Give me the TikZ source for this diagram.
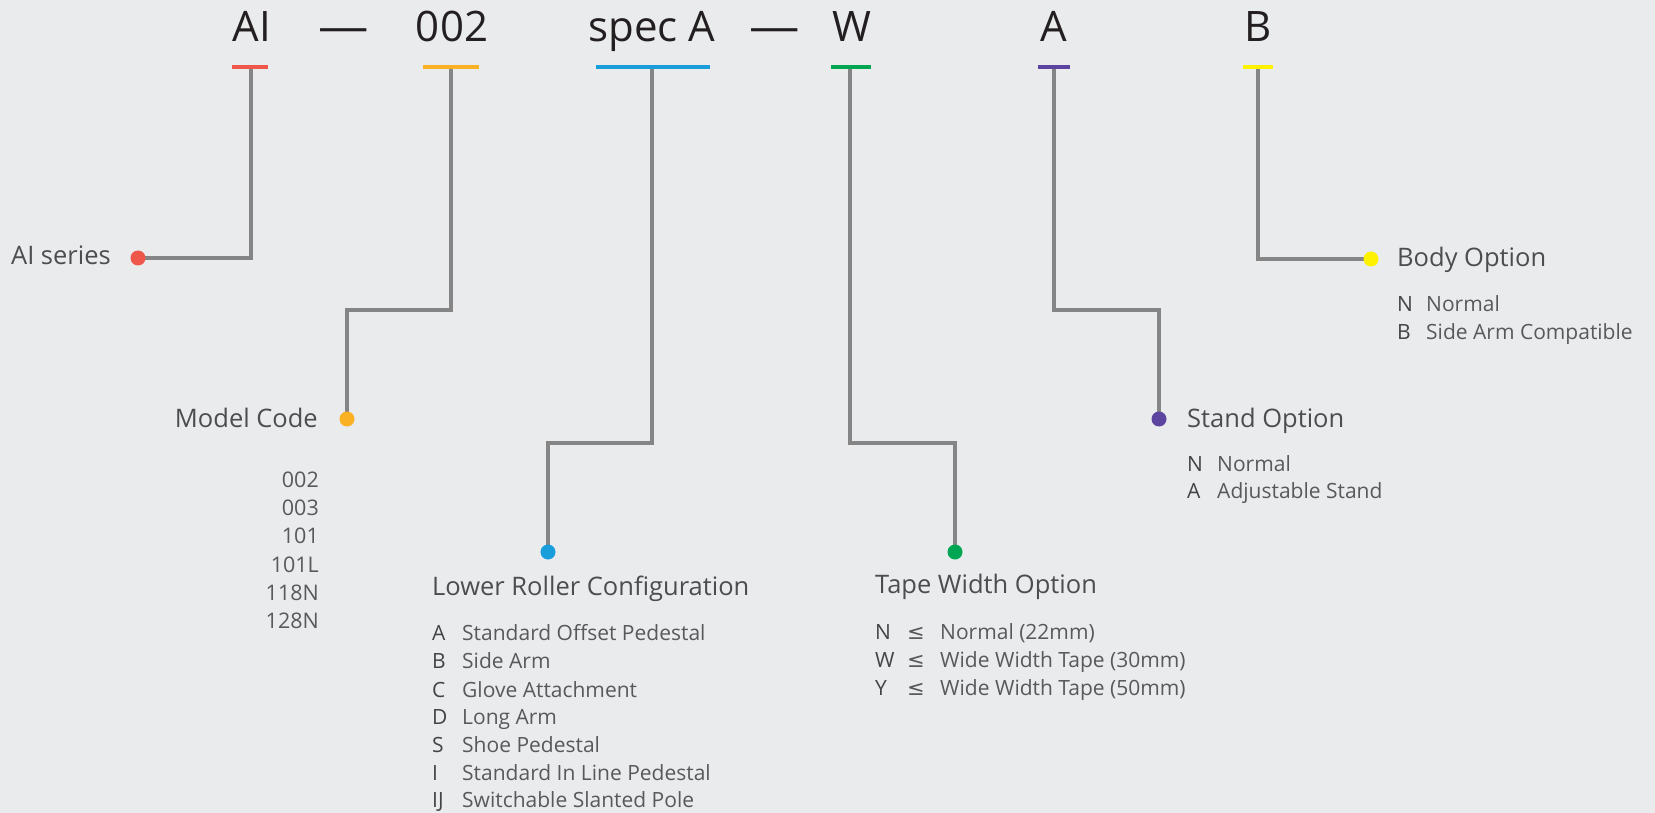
\documentclass[tikz,border=0pt]{standalone}
\usepackage{fontspec}
\setmainfont{Open Sans}
\newfontfamily\symfont{DejaVu Sans}
\definecolor{bgc}{HTML}{EAEBED}
\definecolor{cHdr}{HTML}{231F20}
\definecolor{cLbl}{HTML}{4D4D4F}
\definecolor{cItm}{HTML}{58595B}
\definecolor{cKey}{HTML}{444446}
\definecolor{cLine}{HTML}{858585}
\definecolor{cRed}{HTML}{F0574B}
\definecolor{cOrange}{HTML}{FBB124}
\definecolor{cBlue}{HTML}{1A9DDB}
\definecolor{cGreen}{HTML}{00A651}
\definecolor{cPurple}{HTML}{5B45A0}
\definecolor{cYellow}{HTML}{FFF200}
\begin{document}
\begin{tikzpicture}[x=1pt,y=-1pt,
  hdr/.style={font=\fontsize{42}{50}\selectfont, text=cHdr, anchor=base, inner sep=0pt},
  codebar/.style={rectangle, inner sep=0pt, minimum height=3.5pt, draw=none},
  dot/.style={circle, inner sep=0pt, minimum size=15pt, draw=none},
  conn/.style={draw=cLine, line width=3.4pt},
  lbl/.style={font=\fontsize{25.5}{30}\selectfont, text=cLbl, inner sep=0pt},
  itm/.style={font=\fontsize{21}{25}\selectfont, text=cItm, inner sep=0pt, anchor=base west},
  itmr/.style={font=\fontsize{21.5}{25}\selectfont, text=cItm, inner sep=0pt, anchor=base east},
  keyl/.style={itm, text=cKey}]
\fill[bgc] (0,0) rectangle (1655,813);
\useasboundingbox (0,0) rectangle (1655,813);

% header
\node[hdr] (hAI) at (252,42) {AI};
\node[hdr] (dash1) at (344,42) {\scalebox{1.2}[1]{—}};
\node[hdr] (h002) at (452,42) {002};
\node[hdr] (hspec) at (652,42) {spec A};
\node[hdr] (dash2) at (775,42) {\scalebox{1.2}[1]{—}};
\node[hdr] (hW) at (852,42) {W};
\node[hdr] (hA) at (1054,42) {A};
\node[hdr] (hB) at (1258,42) {B};

% bars
\node[codebar, minimum width=36pt] (bAI) at (250,67) {};
\node[codebar, minimum width=55pt] (b002) at (451,67) {};
\node[codebar, minimum width=113pt] (bspec) at (653,67) {};
\node[codebar, minimum width=40pt] (bW) at (851,67) {};
\node[codebar, minimum width=31pt] (bA) at (1054,67) {};
\node[codebar, minimum width=30pt] (bB) at (1258,67) {};

% dots
\node[dot] (dAI) at (138,258) {};
\node[dot] (d002) at (347,419) {};
\node[dot] (dspec) at (548,552) {};
\node[dot] (dW) at (955,552) {};
\node[dot] (dA) at (1159,419) {};
\node[dot] (dB) at (1371,259) {};

% corner coordinates
\coordinate (c002) at (347,310);
\coordinate (cspec) at (548,443);
\coordinate (cW) at (955,443);
\coordinate (cA) at (1159,310);

% connectors
\draw[conn] ([xshift=1pt]bAI.center) |- (dAI.center);
\draw[conn] (b002.center) |- (c002) -- (d002.center);
\draw[conn] ([xshift=-1pt]bspec.center) |- (cspec) -- (dspec.center);
\draw[conn] ([xshift=-1pt]bW.center) |- (cW) -- (dW.center);
\draw[conn] (bA.center) |- (cA) -- (dA.center);
\draw[conn] (bB.center) |- (dB.center);

% bars and dots on top
\fill[cRed] (bAI.south west) rectangle (bAI.north east);
\fill[cOrange] (b002.south west) rectangle (b002.north east);
\fill[cBlue] (bspec.south west) rectangle (bspec.north east);
\fill[cGreen] (bW.south west) rectangle (bW.north east);
\fill[cPurple] (bA.south west) rectangle (bA.north east);
\fill[cYellow] (bB.south west) rectangle (bB.north east);
\fill[cRed] (dAI) circle[radius=7.5pt];
\fill[cOrange] (d002) circle[radius=7.5pt];
\fill[cBlue] (dspec) circle[radius=7.5pt];
\fill[cGreen] (dW) circle[radius=7.5pt];
\fill[cPurple] (dA) circle[radius=7.5pt];
\fill[cYellow] (dB) circle[radius=7.5pt];

% labels
\node[lbl, anchor=base east] (lAI) at (111,265) {AI series};
\node[lbl, anchor=base east] (l002) at (318,427) {Model Code};
\node[lbl, anchor=base west] (lspec) at (432,595) {Lower Roller Configuration};
\node[lbl, anchor=base west] (lW) at (875,593) {Tape Width Option};
\node[lbl, anchor=base west] (lA) at (1187,427) {Stand Option};
\node[lbl, anchor=base west] (lB) at (1397,266) {Body Option};

% model list
\node[itmr] (m1) at (319,487) {002};
\node[itmr] (m2) at (319,515) {003};
\node[itmr] (m3) at (319,543) {101};
\node[itmr] (m4) at (319,572) {101L};
\node[itmr] (m5) at (319,600) {118N};
\node[itmr] (m6) at (319,628) {128N};

% lower roller list
\node[keyl] (rk1) at (432,640) {A};  \node[itm] (rv1) at (462,640) {Standard Offset Pedestal};
\node[keyl] (rk2) at (432,668) {B};  \node[itm] (rv2) at (462,668) {Side Arm};
\node[keyl] (rk3) at (432,697) {C};  \node[itm] (rv3) at (462,697) {Glove Attachment};
\node[keyl] (rk4) at (432,724) {D};  \node[itm] (rv4) at (462,724) {Long Arm};
\node[keyl] (rk5) at (432,752) {S};  \node[itm] (rv5) at (462,752) {Shoe Pedestal};
\node[keyl] (rk6) at (432,780) {I};  \node[itm] (rv6) at (462,780) {Standard In Line Pedestal};
\node[keyl] (rk7) at (432,807) {IJ}; \node[itm] (rv7) at (462,807) {Switchable Slanted Pole};

% tape width list
\node[keyl] (tk1) at (875,639) {N}; \node[itm] (ts1) at (907,639) {\symfont ≤}; \node[itm] (tv1) at (940,639) {Normal (22mm)};
\node[keyl] (tk2) at (875,667) {W}; \node[itm] (ts2) at (907,667) {\symfont ≤}; \node[itm] (tv2) at (940,667) {Wide Width Tape (30mm)};
\node[keyl] (tk3) at (875,695) {Y}; \node[itm] (ts3) at (907,695) {\symfont ≤}; \node[itm] (tv3) at (940,695) {Wide Width Tape (50mm)};

% stand list
\node[keyl] (sk1) at (1187,471) {N}; \node[itm] (sv1) at (1217,471) {Normal};
\node[keyl] (sk2) at (1187,498) {A}; \node[itm] (sv2) at (1217,498) {Adjustable Stand};

% body list
\node[keyl] (bk1) at (1397,311) {N}; \node[itm] (bv1) at (1426,311) {Normal};
\node[keyl] (bk2) at (1397,339) {B}; \node[itm] (bv2) at (1426,339) {Side Arm Compatible};
\end{tikzpicture}
\end{document}
